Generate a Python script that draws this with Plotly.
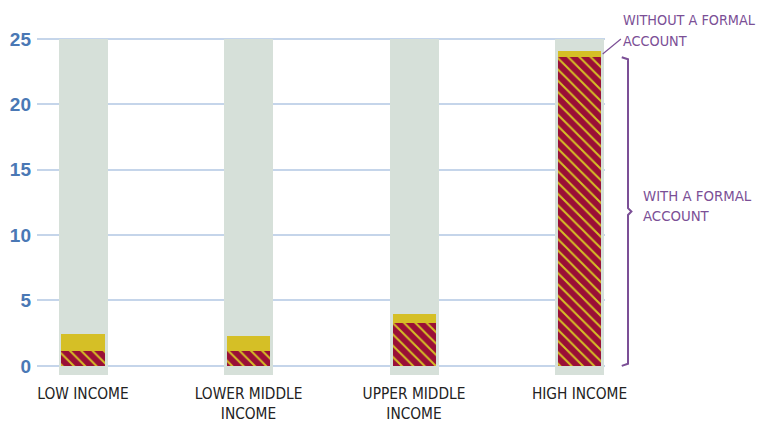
import plotly.graph_objects as go

categories = ["LOW INCOME", "LOWER MIDDLE<br>INCOME", "UPPER MIDDLE<br>INCOME", "HIGH INCOME"]
with_formal = [1.1, 1.1, 3.3, 23.6]
total = [2.4, 2.3, 4.0, 24.1]
without_formal = [t - w for t, w in zip(total, with_formal)]
y_ticks = [0, 5, 10, 15, 20, 25]
label_without = ["WITHOUT A FORMAL", "ACCOUNT"]
label_with = ["WITH A FORMAL", "ACCOUNT"]

x = list(range(len(categories)))
YMIN, YMAX = -0.7, 25.3
BG_TOP = 25.0

NARROW = "DejaVu Sans Condensed, Liberation Sans, sans-serif"
PURPLE = "#7B4F96"

fig = go.Figure()
fig.add_trace(go.Bar(
    x=x, y=[BG_TOP - YMIN] * len(x), base=[YMIN] * len(x), width=0.296,
    marker=dict(color="#D6E0D9", line=dict(width=0)), hoverinfo="skip", showlegend=False))
fig.add_trace(go.Bar(
    x=x, y=with_formal, base=[0] * len(x), width=0.26, name="With a formal account",
    marker=dict(color="#9A0F36", line=dict(width=0),
                pattern=dict(shape="\\", fgcolor="#D5BF26", bgcolor="#9A0F36",
                             size=8, solidity=0.25, fillmode="replace")),
    showlegend=False))
fig.add_trace(go.Bar(
    x=x, y=without_formal, base=with_formal, width=0.26, name="Without a formal account",
    marker=dict(color="#D5BF26", line=dict(width=0)), showlegend=False))

def py(v):
    return (v - YMIN) / (YMAX - YMIN)

XMIN, XMAX = -0.278, 3.154
def px(v):
    return (v - XMIN) / (XMAX - XMIN)

bx = px(3.293)
hook = 0.011
top = py(with_formal[-1]); bot = py(0); mid = (top + bot) / 2
shapes = [
    dict(type="path", xref="paper", yref="paper",
         path=f"M {bx-hook},{top} L {bx},{top-0.006} L {bx},{mid+0.01} L {bx+0.006},{mid} "
              f"L {bx},{mid-0.01} L {bx},{bot+0.006} L {bx-hook},{bot}",
         line=dict(color=PURPLE, width=2)),
    dict(type="line", xref="paper", yref="paper",
         x0=px(3.14), y0=py(total[-1] - 0.25), x1=px(3.25), y1=py(25.0),
         line=dict(color=PURPLE, width=1.2)),
]

annotations = []
for t, yv in zip(label_without, [26.45, 24.85]):
    annotations.append(dict(text=t, xref="paper", yref="paper", x=px(3.25), y=py(yv),
                            xanchor="left", yanchor="middle", showarrow=False,
                            font=dict(family=NARROW, size=14.3, color=PURPLE)))
for t, yv in zip(label_with, [13.0, 11.5]):
    annotations.append(dict(text=t, xref="paper", yref="paper", x=px(3.37), y=py(yv),
                            xanchor="left", yanchor="middle", showarrow=False,
                            font=dict(family=NARROW, size=14.8, color=PURPLE)))

fig.update_layout(
    width=759, height=414, margin=dict(l=29, r=162, t=27, b=47),
    paper_bgcolor="white", plot_bgcolor="white",
    barmode="overlay", bargap=0, shapes=shapes, annotations=annotations,
    xaxis=dict(range=[XMIN, XMAX], tickvals=x, ticktext=categories, showgrid=False,
               zeroline=False, showline=False, ticks="", automargin=False,
               ticklabelstandoff=8,
               tickfont=dict(family=NARROW, size=15.3, color="#222222")),
    yaxis=dict(range=[YMIN, YMAX], tickvals=y_ticks, showgrid=True, gridcolor="#C5D5EA",
               gridwidth=1.5, zeroline=False, showline=False, ticks="", automargin=False,
               ticklabelstandoff=5,
               tickfont=dict(family="Liberation Sans, Arial, sans-serif", size=19,
                             color="#4A78B5", weight="bold")),
)
fig.write_html("out.html")
